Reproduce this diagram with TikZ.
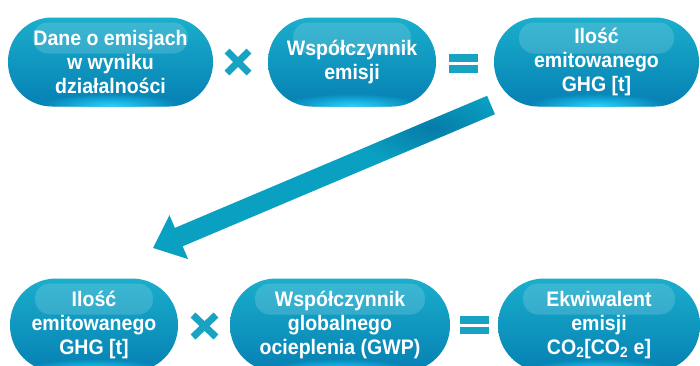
\documentclass[tikz,border=0pt]{standalone}
\usepackage{fontspec}
\setmainfont{Liberation Sans}[FakeStretch=0.93]
\usetikzlibrary{arrows.meta,fadings}
\definecolor{pilltop}{HTML}{1AAECC}
\definecolor{pillmid}{HTML}{0BA0C3}
\definecolor{pillbot}{HTML}{0680B3}
\definecolor{glowc}{HTML}{22D4FF}
\definecolor{symc}{HTML}{18A3C2}
\definecolor{arrc}{HTML}{0AA0C2}
\definecolor{arrdark}{HTML}{0676A4}
\tikzfading[name=glowfade, inner color=transparent!0, outer color=transparent!100]
\tikzset{
  pill/.style={rectangle, rounded corners=44pt, minimum height=89pt,
    top color=pilltop, middle color=pillmid, bottom color=pillbot,
    text=white, font=\bfseries\fontsize{21}{24}\selectfont, align=center, inner sep=0pt,
    path picture={
      \fill[white, opacity=0.15, rounded corners=15pt]
        ([shift={(25pt,-5pt)}]path picture bounding box.north west) rectangle
        ([shift={(-25pt,-36pt)}]path picture bounding box.north east);
      \fill[glowc, path fading=glowfade] ([yshift=1pt]path picture bounding box.south) ellipse (70pt and 12pt);
    }},
  lowpill/.style={pill, minimum height=93pt, rounded corners=46pt},
  sym/.style={draw=symc, line width=7pt},
  symbar/.style={fill=symc},
  bigarrow/.style={draw=arrc, line width=20pt, -{Triangle[length=28pt,width=46pt]}},
}
\begin{document}
\begin{tikzpicture}[x=1pt, y=-1pt]
\useasboundingbox (0,0) rectangle (700,365);
% arrow
\coordinate (t0) at (491,105);
\coordinate (t1) at (153,248);
\draw[bigarrow] (t0) -- (t1);
\begin{scope}
  \clip (487.1,95.8) -- (494.9,114.2) -- (182.7,246.3) -- (174.9,227.9) -- cycle;
  \fill[arrdark, opacity=0.85, path fading=glowfade, shift={(432,128)}, rotate=22.9] (0,0) ellipse (85pt and 20pt);
\end{scope}
% top row
\node[pill, minimum width=205pt] (a1) at (110.5,62) {Dane o emisjach\\w wyniku\\działalności};
\node[pill, minimum width=168pt] (a2) at (352,62) {Współczynnik\\emisji};
\node[pill, minimum width=205pt] (a3) at (596.5,62) {Ilość\\emitowanego\\GHG [t]};
% bottom row
\node[lowpill, minimum width=168pt] (b1) at (94,325) {Ilość\\emitowanego\\GHG [t]};
\node[lowpill, minimum width=220pt] (b2) at (340,325) {Współczynnik\\globalnego\\ocieplenia (GWP)};
\node[lowpill, minimum width=202pt] (b3) at (599,325) {Ekwiwalent\\emisji\\CO\textsubscript{2}[CO\textsubscript{2} e]};
% operators
\draw[sym] (227,51) -- (249,73) (227,73) -- (249,51);
\fill[symbar] (449,53.5) rectangle (478,61.5);
\fill[symbar] (449,65) rectangle (478,73);
\draw[sym] (193,315) -- (216,337) (193,337) -- (216,315);
\fill[symbar] (460,316) rectangle (489,323.5);
\fill[symbar] (460,327) rectangle (489,334);
\end{tikzpicture}
\end{document}
